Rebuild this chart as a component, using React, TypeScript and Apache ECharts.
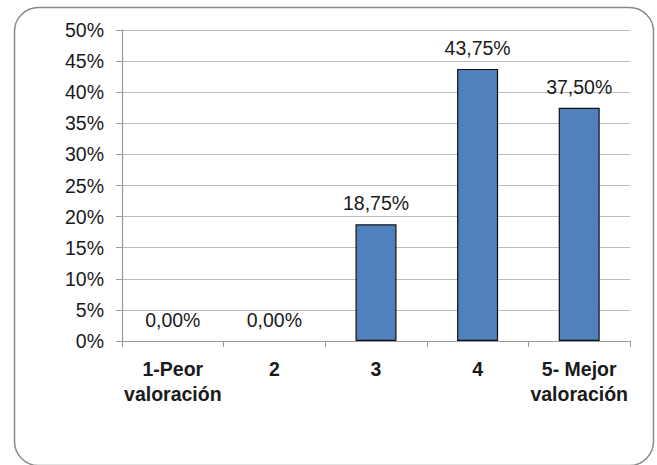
import React, { useEffect, useRef } from "react";
import * as echarts from "echarts";

const categories = ["1-Peor\nvaloración", "2", "3", "4", "5- Mejor\nvaloración"];
const values = [0, 0, 18.75, 43.75, 37.5];
const yTicks = [0, 5, 10, 15, 20, 25, 30, 35, 40, 45, 50];

const FONT = "'Liberation Sans', Arial, sans-serif";

export default function App() {
  const ref = useRef<HTMLDivElement>(null);
  useEffect(() => {
    if (!ref.current) return;
    const chart = echarts.init(ref.current, null, { renderer: "svg" });
    chart.setOption({
      animation: false,
      backgroundColor: "#ffffff",
      graphic: [
        {
          type: "rect",
          left: 12,
          top: 5,
          shape: { width: 639, height: 458, r: 24 },
          style: { fill: "none", stroke: "#8a8a8a", lineWidth: 1.5 },
          silent: true,
          z: -1,
        },
      ],
      grid: { left: 122, right: 27, top: 30, bottom: 124, containLabel: false },
      xAxis: {
        type: "category",
        data: categories,
        axisLine: { show: true, lineStyle: { color: "#9a9a9a", width: 1.2 } },
        axisTick: { show: true, alignWithLabel: false, length: 6, lineStyle: { color: "#9a9a9a" } },
        axisLabel: {
          interval: 0,
          margin: 15,
          color: "#1a1a1a",
          fontFamily: FONT,
          fontWeight: "bold",
          fontSize: 19.5,
          lineHeight: 25,
        },
      },
      yAxis: {
        type: "value",
        min: 0,
        max: 50,
        interval: 5,
        axisLine: { show: true, lineStyle: { color: "#9a9a9a", width: 1.2 } },
        axisTick: { show: true, length: 6, lineStyle: { color: "#9a9a9a" } },
        splitLine: { show: true, lineStyle: { color: "#bdbdbd", width: 1.2 } },
        axisLabel: {
          margin: 18,
          color: "#1a1a1a",
          fontFamily: FONT,
          fontSize: 19.5,
          formatter: (v: number) => (yTicks.includes(v) ? v + "%" : ""),
        },
      },
      series: [
        {
          type: "bar",
          data: values.map((v) => (v === 0 ? { value: v, itemStyle: { borderWidth: 0 } } : v)),
          barWidth: 41,
          itemStyle: { color: "#4f81bd", borderColor: "#111111", borderWidth: 1.2 },
          label: {
            show: true,
            position: "top",
            distance: 11,
            color: "#1a1a1a",
            fontFamily: FONT,
            fontSize: 19.5,
            formatter: (p: any) => Number(p.value).toFixed(2).replace(".", ",") + "%",
          },
        },
      ],
    });
    return () => chart.dispose();
  }, []);
  return (
    <div
      ref={ref}
      style={{ position: "fixed", left: 0, top: 0, width: 657, height: 465 }}
    />
  );
}
